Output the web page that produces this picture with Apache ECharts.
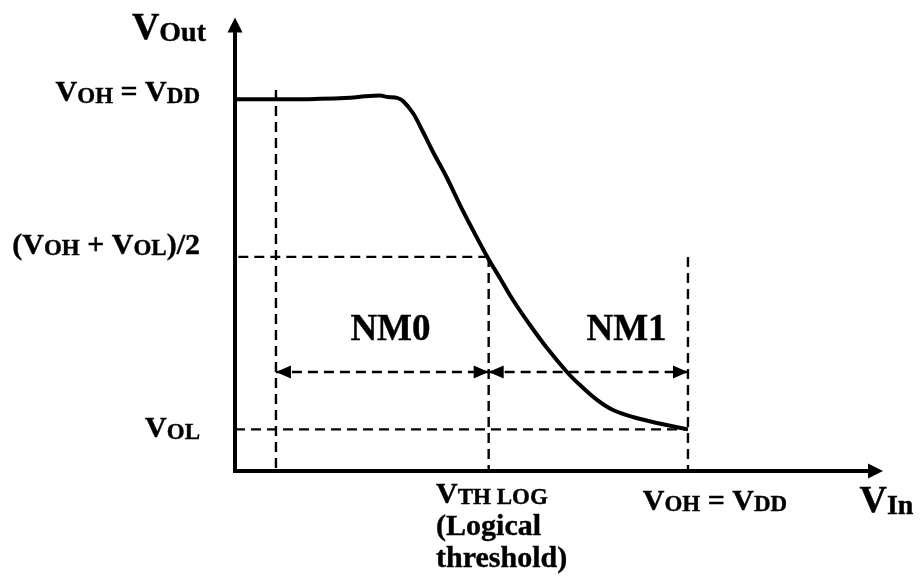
<!DOCTYPE html>
<html>
<head>
<meta charset="utf-8">
<script src="https://cdn.jsdelivr.net/npm/echarts@6/dist/echarts.min.js"></script>
<style>
html,body{margin:0;padding:0;background:#fff;}
#chart{width:923px;height:581px;}
</style>
</head>
<body>
<div id="chart"></div>
<script>
// ---------------- data (volts) ----------------
const curveX = [0, 0.35, 0.635, 0.717, 0.80, 0.844, 0.894, 0.927, 0.982, 1.038, 1.093, 1.170, 1.242,
                1.313, 1.396, 1.462, 1.534, 1.628, 1.722, 1.832, 1.904, 1.998, 2.086, 2.196, 2.329, 2.50];
const curveY = [2.50, 2.50, 2.51, 2.52, 2.525, 2.515, 2.51, 2.489, 2.408, 2.280, 2.146, 1.971, 1.789,
                1.621, 1.433, 1.298, 1.150, 0.982, 0.827, 0.666, 0.578, 0.478, 0.410, 0.363, 0.323, 0.28];

const V_DD = 2.5;      // supply / V_OH
const V_OH = 2.5;
const V_OL = 0.28;
const V_MID = 1.44;    // (V_OH + V_OL)/2 level as drawn
const V_TH = 1.40;     // logical threshold
const V_IL = 0.226;    // left noise-margin boundary
const NM_LEVEL = 0.666;

const yTickValues = [V_OH, V_MID, V_OL];
const yTickLabels = ['V_{OH} = V_{DD}', '(V_{OH} + V_{OL})/2', 'V_{OL}'];
const xTickValues = [V_TH, V_DD];
const xTickLabels = ['V_{TH LOG}\n(Logical\nthreshold)', 'V_{OH} = V_{DD}'];
const xAxisName = 'V_{In}';
const yAxisName = 'V_{Out}';

const marginNames = ['NM0', 'NM1'];
const marginFrom = [V_IL, V_TH];
const marginTo = [V_TH, V_DD];
const marginLabelX = [0.858, 2.161];
const marginLabelY = [0.945, 0.945];

// dashed guide segments [[x0,y0],[x1,y1]]
const guideSegments = [
  [[V_IL, 2.563], [V_IL, 0]],
  [[-0.07, V_MID], [V_TH, V_MID]],
  [[V_TH, V_MID], [V_TH, 0]],
  [[V_DD, V_MID], [V_DD, 0]],
  [[0, V_OL], [V_DD, V_OL]]
];

// ---------------- styling helpers ----------------
const FONT = "'Liberation Serif','Times New Roman',serif";
const INK = { color: '#000', textBorderColor: '#000', textBorderWidth: 0.4 };
const labelFont = { main: 30, sub: 23, mainLH: 32, subLH: 21 };
const nameFont = { main: 38, sub: 28, mainLH: 38, subLH: 24 };
const yLabelLayout = [{ lift: 7 }, { lift: 12 }, { lift: 1 }];
const xLabelLayout = [{ dx: 13, lift: 7 }, { dx: 27, lift: 0 }];
const arrowHead = { symbol: 'triangle', symbolSize: [13, 15], symbolOffset: [0, '50%'] };

function richText(text, key, f, lay, rich) {
  lay = lay || {};
  return text.split('\n').map(function (line, li) {
    const parts = [];
    const re = /_\{([^}]*)\}/g;
    let last = 0, m;
    while ((m = re.exec(line)) !== null) {
      if (m.index > last) parts.push([line.slice(last, m.index), false]);
      parts.push([m[1], true]);
      last = re.lastIndex;
    }
    if (last < line.length) parts.push([line.slice(last), false]);
    return parts.map(function (p, pi) {
      const name = key + 'l' + li + 'p' + pi;
      rich[name] = Object.assign({
        fontFamily: FONT, fontWeight: 'bold',
        fontSize: p[1] ? f.sub : f.main,
        lineHeight: p[1] ? f.subLH : f.mainLH,
        verticalAlign: 'bottom', align: 'left',
        padding: [0, 0, lay.lift || 0, pi === 0 ? 2 * (lay.dx || 0) : 0]
      }, INK);
      return '{' + name + '|' + p[0] + '}';
    }).join('');
  }).join('\n');
}

const yRich = {}, xRich = {}, xNameRich = {}, yNameRich = {};
const yLabelStr = yTickLabels.map((t, i) => richText(t, 'y' + i, labelFont, yLabelLayout[i], yRich));
const xLabelStr = xTickLabels.map((t, i) => richText(t, 'x' + i, labelFont, xLabelLayout[i], xRich));
const xNameStr = richText(xAxisName, 'xn', nameFont, null, xNameRich);
const yNameStr = richText(yAxisName, 'yn', nameFont, null, yNameRich);

function lookup(values, strs, v) {
  for (let i = 0; i < values.length; i++) if (Math.abs(values[i] - v) < 1e-6) return strs[i];
  return '';
}

const dashStyle = { type: [10, 6], width: 2.4, color: '#000' };

const series = [];
guideSegments.forEach(function (seg) {
  series.push({
    type: 'line', data: seg, symbol: 'none', clip: false, silent: true, z: 1,
    lineStyle: dashStyle
  });
});
series.push({
  type: 'line', name: 'curve', data: curveX.map((x, i) => [x, curveY[i]]),
  smooth: 0.35, symbol: 'none', silent: true, z: 3,
  lineStyle: { width: 4, color: '#000' }
});
series.push({
  type: 'line', data: [], symbol: 'none', silent: true, z: 2,
  itemStyle: { color: '#000' },
  markLine: {
    silent: true, animation: false,
    symbol: ['triangle', 'triangle'],
    symbolSize: 15,
    label: { show: false }, emphasis: { disabled: true },
    itemStyle: { color: '#000' },
    lineStyle: dashStyle,
    data: marginNames.map((n, i) => [
      Object.assign({ coord: [marginFrom[i], NM_LEVEL] }, arrowHead),
      Object.assign({ coord: [marginTo[i], NM_LEVEL] }, arrowHead)
    ])
  }
});
series.push({
  type: 'scatter', silent: true, clip: false, symbolSize: 0, z: 4,
  itemStyle: { opacity: 1, color: '#000' },
  data: marginNames.map((n, i) => ({ name: n, value: [marginLabelX[i], marginLabelY[i]] })),
  label: Object.assign({
    show: true, position: 'inside', formatter: '{b}',
    fontFamily: FONT, fontWeight: 'bold', fontSize: 37
  }, INK)
});

const axisLineStyle = { color: '#000', width: 4, cap: 'square' };

const option = {
  animation: false,
  backgroundColor: '#fff',
  color: ['#000'],
  grid: { left: 235, right: 47.5, top: 25, bottom: 110, containLabel: false, outerBoundsMode: 'none' },
  xAxis: {
    type: 'value', min: 0, max: 3.535,
    axisLine: { show: true, onZero: false, symbol: ['none', 'triangle'], symbolSize: [15, 15], lineStyle: axisLineStyle },
    axisTick: { show: false }, splitLine: { show: false },
    axisLabel: {
      customValues: xTickValues, margin: 14, align: 'center', verticalAlign: 'top',
      formatter: v => lookup(xTickValues, xLabelStr, v), rich: xRich
    },
    name: xNameStr, nameLocation: 'end', nameGap: -16, nameMoveOverlap: false,
    nameTextStyle: { align: 'left', verticalAlign: 'top', padding: [12, 0, 0, 0], rich: xNameRich }
  },
  yAxis: {
    type: 'value', min: 0, max: 3,
    axisLine: { show: true, onZero: false, symbol: ['none', 'triangle'], symbolSize: [15, 15], lineStyle: axisLineStyle },
    axisTick: { show: false }, splitLine: { show: false },
    axisLabel: {
      customValues: yTickValues, margin: 35, align: 'right', verticalAlign: 'middle',
      formatter: v => lookup(yTickValues, yLabelStr, v), rich: yRich
    },
    name: yNameStr, nameLocation: 'end', nameGap: -4, nameMoveOverlap: false,
    nameTextStyle: { align: 'right', verticalAlign: 'middle', padding: [0, 29, 0, 0], rich: yNameRich }
  },
  series: series
};

const chart = echarts.init(document.getElementById('chart'), null, { renderer: 'canvas' });
chart.setOption(option);
</script>
</body>
</html>
